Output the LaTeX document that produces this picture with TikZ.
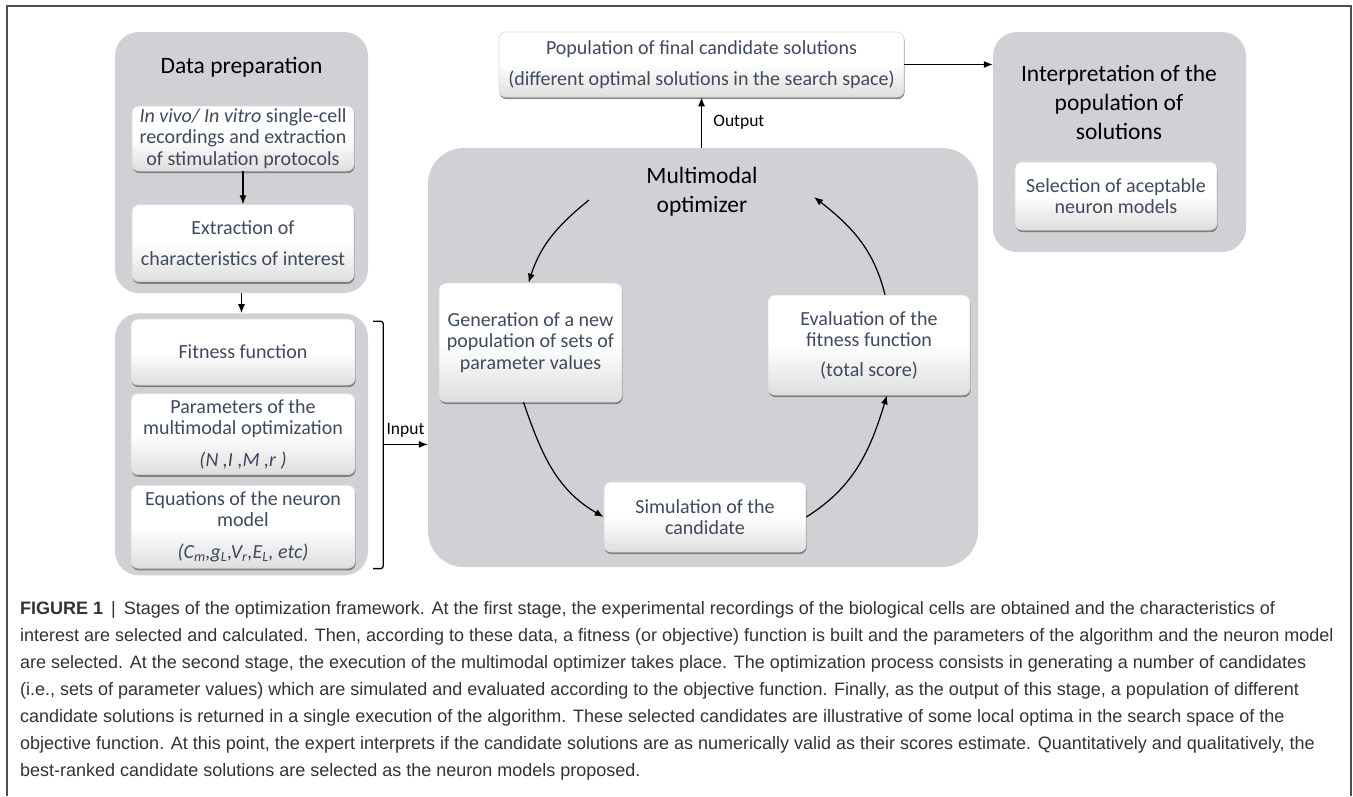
\documentclass[tikz,border=0pt]{standalone}
\usepackage{fontspec}
\setmainfont{Carlito}
\newfontfamily\capfont{Liberation Sans}
\usetikzlibrary{%
  shapes,arrows,arrows.meta,positioning,shadows,calc}
\tikzstyle{line} = [draw, -{Latex[length=9pt,width=7pt]}, line width=1.2pt, fill=none]
\definecolor{panelgray}{HTML}{D0D1D5}
\definecolor{boxtext}{HTML}{3E4A5D}
\definecolor{captext}{HTML}{333333}

\begin{document}
\begin{tikzpicture}[x=1pt,y=1pt,
    panel/.style={
      fill=panelgray,
      rounded corners=24pt,
      inner sep=0pt
    },
    inbox/.style={
      draw=black!15,
      line width=.6pt,
      rounded corners=7pt,
      top color=white,
      bottom color=black!13,
      middle color=white,
      drop shadow={shadow xshift=0.6pt,shadow yshift=-2.2pt,fill=black!60,opacity=.75},
      text=boxtext,
      align=center,
      inner sep=0pt,
      font=\fontsize{20}{21.5}\selectfont
    },
    paneltitle/.style={
      align=center,
      font=\fontsize{23.5}{29}\selectfont
    },
    tag/.style={
      font=\fontsize{17.5}{20}\selectfont
    },
    bracket/.style={
      draw,
      line width=1.3pt,
      rounded corners=2.5pt
    }
  ]

  \useasboundingbox (0,0) rectangle (1353,-796);
  \draw[line width=1.4pt,draw=black!70] (7,-796) -- (7,-6) -- (1351,-6) -- (1351,-796);

  % first stage
  \node[panel,minimum width=253,minimum height=261] (prep) at (241.5,-162.5) {};
  \node[paneltitle] (preptitle) at (241.5,-67) {Data preparation};
  \node[inbox,minimum width=222,minimum height=65] (rec) at (243,-138.5)
    {\textit{In vivo/ In vitro} single-cell\\recordings and extraction\\of stimulation protocols};
  \node[inbox,minimum width=222,minimum height=77,below=33pt of rec] (extr)
    {Extraction of\\[9pt]characteristics of interest};
  \draw[line] (rec) -- (extr);

  \node[panel,minimum width=253,minimum height=262,below=20pt of prep] (inputs) {};
  \node[inbox,minimum width=224,minimum height=66] (fit) at (243,-352) {Fitness function};
  \node[inbox,minimum width=224,minimum height=81,below=8pt of fit] (param)
    {Parameters of the\\multimodal optimization\\[10pt]\textit{(N ,I ,M ,r )}};
  \node[inbox,minimum width=224,minimum height=83,below=10pt of param] (eqs)
    {Equations of the neuron\\model\\[10pt]\textit{(C\textsubscript{m},g\textsubscript{L},V\textsubscript{r},E\textsubscript{L}, etc)}};
  \draw[line] (prep.south) -- (inputs.north);

  % second stage
  \node[panel,rounded corners=36pt,minimum width=550,minimum height=419] (mm) at (703,-357.5) {};
  \node[paneltitle] (mmtitle) at (702,-191.5) {Multimodal\\optimizer};
  \node[inbox,minimum width=183,minimum height=119] (gen) at (530.5,-342.5)
    {Generation of a new\\population of sets of\\parameter values};
  \node[inbox,minimum width=202,minimum height=100] (eval) at (869,-345)
    {Evaluation of the\\fitness function\\[8pt](total score)};
  \node[inbox,minimum width=202,minimum height=70] (sim) at (705,-517)
    {Simulation of the\\candidate};

  \coordinate (brtop) at ($(inputs.north east)+(5,-8)$);
  \coordinate (brbot) at ($(inputs.south east)+(5,7)$);
  \coordinate (brmid) at ($(inputs.east)+(15,0)$);
  \draw[bracket] (brtop) -- ++(10,0) |- (brbot);
  \draw[line] (brmid) -- (brmid -| mm.west) node[tag,midway,above=3pt] (input) {Input};

  \coordinate (mmout) at (589,-200);
  \coordinate (mmin) at (814,-197);
  \draw[line] (mmout) to[out=219,in=72] ($(gen.north)+(-2,0)$);
  \draw[line] ($(gen.south)+(-7,0)$) to[out=289,in=150] (sim.west);
  \draw[line] (sim.east) to[out=32,in=253] ($(eval.south)+(18,0)$);
  \draw[line] ($(eval.north)+(16,0)$) to[out=104,in=322] (mmin);

  % output and interpretation
  \node[inbox,minimum width=405,minimum height=65] (pop) at (701.5,-64.5)
    {Population of final candidate solutions\\[9pt](different optimal solutions in the search space)};
  \draw[line] (pop.south |- mm.north) -- (pop.south) node[tag,midway,right=8pt] (output) {Output};

  \node[panel,minimum width=253,minimum height=220] (interp) at (1119.5,-142) {};
  \node[paneltitle] (interptitle) at (1119,-102) {Interpretation of the\\population of\\solutions};
  \node[inbox,minimum width=202,minimum height=68] (sel) at (1116,-196)
    {Selection of aceptable\\neuron models};
  \draw[line] (pop.east) -- (pop.east -| interp.west);

  % caption
  \node[anchor=north west,align=left,inner sep=0pt,text=captext,
    font=\capfont\fontsize{18}{27}\selectfont] (caption) at (20,-601)
    {\textbf{FIGURE 1} \,|\, Stages of the optimization framework. At the first stage, the experimental recordings of the biological cells are obtained and the characteristics of\\
    interest are selected and calculated. Then, according to these data, a fitness (or objective) function is built and the parameters of the algorithm and the neuron model\\
    are selected. At the second stage, the execution of the multimodal optimizer takes place. The optimization process consists in generating a number of candidates\\
    (i.e., sets of parameter values) which are simulated and evaluated according to the objective function. Finally, as the output of this stage, a population of different\\
    candidate solutions is returned in a single execution of the algorithm. These selected candidates are illustrative of some local optima in the search space of the\\
    objective function. At this point, the expert interprets if the candidate solutions are as numerically valid as their scores estimate. Quantitatively and qualitatively, the\\
    best-ranked candidate solutions are selected as the neuron models proposed.};

\end{tikzpicture}
\end{document}
